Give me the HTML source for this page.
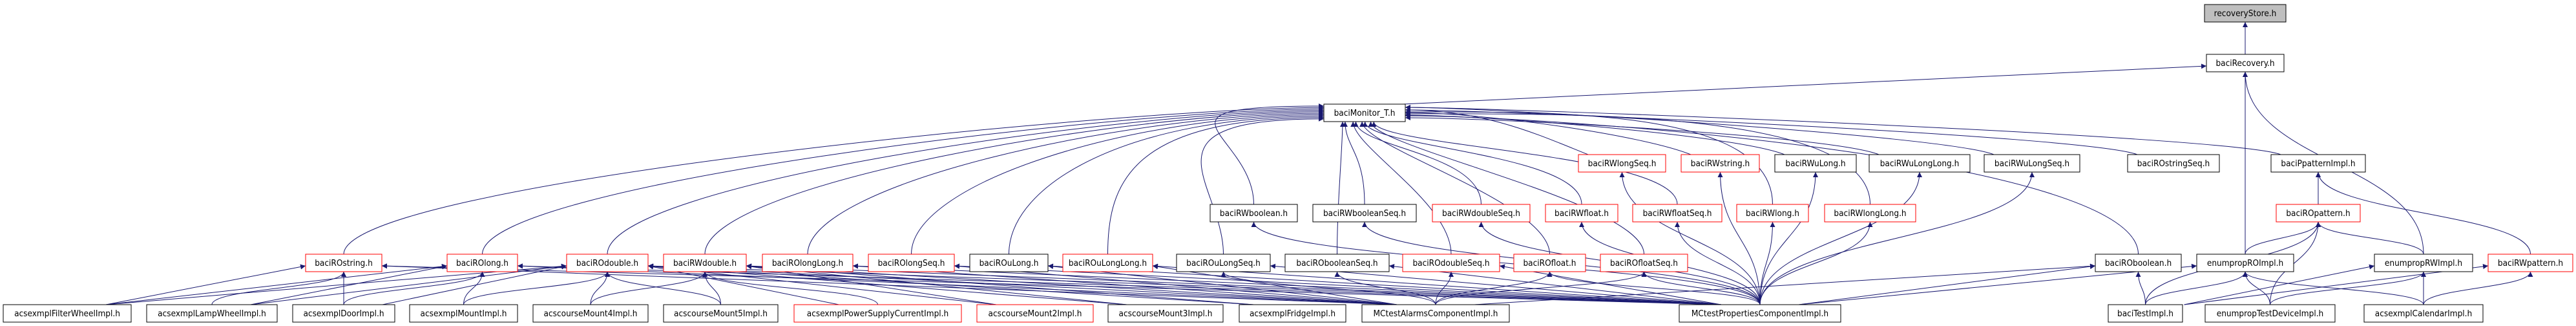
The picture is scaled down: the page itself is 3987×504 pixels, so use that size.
<!DOCTYPE html>
<html><head><meta charset="utf-8"><style>
html,body{margin:0;padding:0;background:#fff;}
svg{display:block;}
text{font-family:"DejaVu Sans Condensed","Liberation Sans",sans-serif;font-size:13.5px;fill:#000;}
</style></head><body>
<svg id="g" xmlns="http://www.w3.org/2000/svg" width="3987" height="504" viewBox="0 0 3987 504">
<defs><marker id="a" viewBox="0 0 10 10" refX="10" refY="5" markerWidth="8" markerHeight="8" markerUnits="userSpaceOnUse" orient="auto"><path d="M0,0 L10,5 L0,10 z" fill="#191970"/></marker></defs>
<g id="edges" fill="none" stroke="#191970" stroke-width="1"></g>
<g id="nodes"></g>
</svg>
<script>
var R=[7,84,161,239,316,393,471];
var N={
recoveryStore:[3412,3538,0,2,"recoveryStore.h"],
baciRecovery:[3415,3535,1,0,"baciRecovery.h"],
Monitor:[2049,2175,2,0,"baciMonitor_T.h"],
RWlongSeq:[2443,2578,3,1,"baciRWlongSeq.h"],
RWstring:[2602,2723,3,1,"baciRWstring.h"],
RWuLong:[2747,2873,3,0,"baciRWuLong.h"],
RWuLongLong:[2893,3049,3,0,"baciRWuLongLong.h"],
RWuLongSeq:[3071,3219,3,0,"baciRWuLongSeq.h"],
ROstringSeq:[3293,3435,3,0,"baciROstringSeq.h"],
PpatternImpl:[3515,3661,3,0,"baciPpatternImpl.h"],
RWboolean:[1873,2008,4,0,"baciRWboolean.h"],
RWbooleanSeq:[2032,2192,4,0,"baciRWbooleanSeq.h"],
RWdoubleSeq:[2217,2368,4,1,"baciRWdoubleSeq.h"],
RWfloat:[2392,2504,4,1,"baciRWfloat.h"],
RWfloatSeq:[2527,2665,4,1,"baciRWfloatSeq.h"],
RWlong:[2688,2799,4,1,"baciRWlong.h"],
RWlongLong:[2824,2965,4,1,"baciRWlongLong.h"],
ROpattern:[3523,3653,4,1,"baciROpattern.h"],
ROstring:[473,591,5,1,"baciROstring.h"],
ROlong:[692,801,5,1,"baciROlong.h"],
ROdouble:[877,1003,5,1,"baciROdouble.h"],
RWdouble:[1027,1155,5,1,"baciRWdouble.h"],
ROlongLong:[1180,1320,5,1,"baciROlongLong.h"],
ROlongSeq:[1344,1477,5,1,"baciROlongSeq.h"],
ROuLong:[1501,1622,5,0,"baciROuLong.h"],
ROuLongLong:[1645,1784,5,1,"baciROuLongLong.h"],
ROuLongSeq:[1821,1966,5,0,"baciROuLongSeq.h"],
RObooleanSeq:[1989,2150,5,0,"baciRObooleanSeq.h"],
ROdoubleSeq:[2171,2321,5,1,"baciROdoubleSeq.h"],
ROfloat:[2343,2454,5,1,"baciROfloat.h"],
ROfloatSeq:[2477,2612,5,1,"baciROfloatSeq.h"],
ROboolean:[3243,3376,5,0,"baciROboolean.h"],
enumRO:[3400,3550,5,0,"enumpropROImpl.h"],
enumRW:[3675,3827,5,0,"enumpropRWImpl.h"],
RWpattern:[3851,3982,5,1,"baciRWpattern.h"],
Filter:[5,203,6,0,"acsexmplFilterWheelImpl.h"],
Lamp:[227,429,6,0,"acsexmplLampWheelImpl.h"],
Door:[453,611,6,0,"acsexmplDoorImpl.h"],
Mount:[634,801,6,0,"acsexmplMountImpl.h"],
Mount4:[825,1003,6,0,"acscourseMount4Impl.h"],
Mount5:[1027,1204,6,0,"acscourseMount5Impl.h"],
Power:[1229,1488,6,1,"acsexmplPowerSupplyCurrentImpl.h"],
Mount2:[1512,1692,6,1,"acscourseMount2Impl.h"],
Mount3:[1715,1893,6,0,"acscourseMount3Impl.h"],
Fridge:[1918,2083,6,0,"acsexmplFridgeImpl.h"],
Alarms:[2108,2336,6,0,"MCtestAlarmsComponentImpl.h"],
Props:[2599,2849,6,0,"MCtestPropertiesComponentImpl.h"],
Test:[3263,3378,6,0,"baciTestImpl.h"],
TestDev:[3413,3614,6,0,"enumpropTestDeviceImpl.h"],
Cal:[3659,3843,6,0,"acsexmplCalendarImpl.h"]
};
var E=[["baciRecovery","recoveryStore"],["Monitor","baciRecovery"],["enumRO","baciRecovery"],["enumRW","baciRecovery"],
["PpatternImpl","Monitor"],["ROpattern","PpatternImpl"],["RWpattern","PpatternImpl"],["enumRO","ROpattern"],["enumRW","ROpattern"],["Test","ROpattern"],["TestDev","ROpattern"],
["Filter","ROstring"],["Filter","ROlong"],["Filter","ROdouble"],["Lamp","ROstring"],["Lamp","ROlong"],["Lamp","ROdouble"],
["Door","ROstring"],["Door","ROlong"],["Door","ROdouble"],["Mount","ROlong"],["Mount","ROdouble"],
["Mount4","ROdouble"],["Mount4","RWdouble"],["Mount5","ROdouble"],["Mount5","RWdouble"],["Power","ROdouble"],["Power","RWdouble"],
["Mount2","ROdouble"],["Mount2","RWdouble"],["Mount3","ROdouble"],["Mount3","RWdouble"],["Fridge","ROdouble"],["Fridge","RWdouble"],
["Test","ROboolean"],["Test","enumRO"],["Test","enumRW"],["Test","RWpattern"],["TestDev","enumRO"],["TestDev","enumRW"],
["Cal","enumRO"],["Cal","enumRW"],["Cal","RWpattern"],["Props","ROboolean"],["Props","enumRO"],["Alarms","ROboolean"]];
["ROdouble","RWdouble","ROlongLong","ROlongSeq","ROuLong","ROuLongLong","ROuLongSeq","RObooleanSeq","ROdoubleSeq","ROfloat","ROfloatSeq","ROlong","ROstring"].forEach(function(p){E.push(["Alarms",p]);E.push(["Props",p]);});
["RWboolean","RWbooleanSeq","RWdoubleSeq","RWfloat","RWfloatSeq","RWlong","RWlongLong","RWlongSeq","RWstring","RWuLong","RWuLongLong","RWuLongSeq"].forEach(function(p){E.push(["Props",p]);});
Object.keys(N).forEach(function(k){var r=N[k][2];if(r>=3&&r<=5&&["ROpattern","PpatternImpl","enumRO","enumRW","RWpattern"].indexOf(k)<0)E.push([k,"Monitor"]);});
var eg=document.getElementById("edges"),ng=document.getElementById("nodes"),s="",ns="";
var mi=0,li=0;
E.forEach(function(e){var c=N[e[0]],p=N[e[1]];
var sx=(c[0]+c[1])/2,sy=R[c[2]];var px=(p[0]+p[1])/2,py=R[p[2]]+27;
var d;
if(e[1]=="Monitor"&&c[1]<2049){var ty=164+(li++)*2.2;d="M"+sx+","+sy+" C"+sx+","+(sy-110)+" "+(1750)+","+ty+" 2049,"+ty;}
else if(e[1]=="Monitor"&&c[0]>2175&&c[2]==3){var ty=166+(mi++%5)*4;d="M"+(c[0]+15)+","+sy+" C"+(c[0]-60)+","+(sy-30)+" 2300,"+ty+" 2175,"+ty;}
else if(e[1]=="Monitor"&&c[0]>2600){var ty=170+(mi++%6)*3;d="M"+sx+","+sy+" C"+sx+","+(sy-150)+" 2400,"+ty+" 2175,"+ty;}
else if(e[1]=="Monitor"){var tx=2060+((sx-1873)/1200)*110;d="M"+sx+","+sy+" C"+sx+","+(sy-80)+" "+tx+","+(py+40)+" "+tx+","+py;}
else{var dx=Math.abs(px-sx);if(dx>400&&p[2]==c[2]-1){var tx=(px<sx)?p[1]:p[0];var ty=R[p[2]]+18;d="M"+(sx+(px<sx?-60:60))+","+sy+" L"+tx+","+ty;}else{var m=(sy-py)/2;d="M"+sx+","+sy+" C"+sx+","+(sy-m)+" "+px+","+(py+m)+" "+px+","+py;}}
s+='<path d="'+d+'" marker-end="url(#a)"/>';});
eg.innerHTML=s;
Object.keys(N).forEach(function(k){var n=N[k],y=R[n[2]],w=n[1]-n[0];
ns+='<rect x="'+n[0]+'" y="'+y+'" width="'+w+'" height="27" fill="'+(n[3]==2?"#bfbfbf":"#fff")+'" stroke="'+(n[3]==1?"#ff0000":"#000")+'" stroke-width="1"/>';
ns+='<text x="'+(n[0]+w/2)+'" y="'+(y+18)+'" text-anchor="middle">'+n[4]+'</text>';});
ng.innerHTML=ns;
</script>
</body></html>
